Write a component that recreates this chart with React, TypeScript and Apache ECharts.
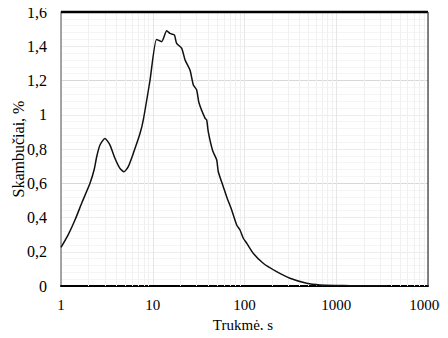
import React, { useEffect, useRef } from "react";
import * as echarts from "echarts";

// Duration (s) and share of calls (%)
const durations = [
  1.0, 1.2, 1.42, 1.7, 2.07, 2.3, 2.45, 2.66, 3.01, 3.42, 3.87, 4.39, 4.86, 5.41, 6.14,
  7.26, 7.89, 9.33, 11.0, 12.5, 14.2, 15.4, 17.2, 18.2, 20.7, 22.5, 25.5, 27.7, 30.1,
  31.9, 37.1, 38.7, 40.3, 45.0, 49.8, 51.8, 58.7, 64.0, 72.5, 82.2, 89.3, 97.0, 106,
  125, 160, 224, 313, 476, 665, 1000, 1413, 2000, 3573,
];
const shares = [
  0.225, 0.3, 0.385, 0.49, 0.6, 0.68, 0.755, 0.823, 0.862, 0.823, 0.746, 0.687, 0.667,
  0.697, 0.775, 0.89, 0.97, 1.2, 1.44, 1.427, 1.49, 1.475, 1.466, 1.417, 1.388, 1.32,
  1.26, 1.174, 1.145, 1.07, 0.98, 0.97, 0.9, 0.79, 0.736, 0.667, 0.58, 0.52, 0.444,
  0.356, 0.327, 0.279, 0.249, 0.19, 0.133, 0.084, 0.045, 0.016, 0.006, 0.003, 0.002,
  0.001, 0.001,
];
const xTickLabels = ["1", "10", "100", "1000", "10000"];
const xMinorGrid = [2, 3, 4, 5, 6, 7, 8, 9, 20, 30, 40, 50, 60, 70, 80, 90, 200, 300, 400, 500, 600, 700, 800, 900, 2000, 3000, 4000, 5000, 6000, 7000, 8000, 9000];
const xTitle = "Trukmė, s";
const yTitle = "Skambučiai, %";

const FONT = "Liberation Serif";

export default function App() {
  const ref = useRef<HTMLDivElement>(null);
  useEffect(() => {
    if (!ref.current) return;
    const chart = echarts.init(ref.current, undefined, { renderer: "svg" });
    const data = durations.map((d, i) => [d, shares[i]]);
    chart.setOption({
      animation: false,
      backgroundColor: "#ffffff",
      textStyle: { fontFamily: FONT },
      grid: {
        left: 61,
        right: 42,
        top: 12,
        bottom: 52,
        containLabel: false,
        outerBoundsMode: "none",
      },
      xAxis: {
        type: "log",
        logBase: 10,
        min: 1,
        max: 10000,
        axisLine: { show: true, lineStyle: { color: "#000", width: 2 } },
        axisTick: { show: false },
        axisLabel: {
          fontFamily: FONT,
          fontSize: 15,
          color: "#000",
          margin: 11,
          hideOverlap: false,
          showMaxLabel: true,
          formatter: (v: number) => {
            const i = Math.round(Math.log10(v));
            return xTickLabels[i] ?? String(Math.round(v));
          },
        },
        splitLine: { show: true, lineStyle: { color: "#e6e6e6", width: 1 } },
      },
      yAxis: [
        {
          type: "value",
          min: 0,
          max: 1.6,
          interval: 0.2,
          name: yTitle,
          nameLocation: "middle",
          nameGap: 35,
          nameRotate: 90,
          nameMoveOverlap: false,
          nameTextStyle: { fontFamily: FONT, fontSize: 16, color: "#000" },
          axisLine: { show: true, lineStyle: { color: "#888", width: 1.5 } },
          axisTick: { show: false },
          axisLabel: {
            fontFamily: FONT,
            fontSize: 16,
            color: "#000",
            margin: 14,
            formatter: (v: number) => String(Math.round(v * 10) / 10).replace(".", ","),
          },
          splitLine: { show: true, lineStyle: { color: "#ececec", width: 1 } },
          minorTick: { show: false, splitNumber: 5 },
          minorSplitLine: { show: true, lineStyle: { color: "#f5f5f5", width: 1 } },
        },
        {
          type: "value",
          min: 0,
          max: 1.6,
          interval: 0.6,
          position: "left",
          axisLine: { show: false },
          axisTick: { show: false },
          axisLabel: { show: false },
          splitLine: { show: true, lineStyle: { color: "#d8d8d8", width: 1.2 } },
        },
      ],
      graphic: [
        {
          type: "line",
          shape: { x1: 61, y1: 12, x2: 428, y2: 12 },
          style: { stroke: "#000", lineWidth: 2.5 },
          z: 100,
        },
        {
          type: "line",
          shape: { x1: 428, y1: 12, x2: 428, y2: 286 },
          style: { stroke: "#333", lineWidth: 1.2 },
          z: 100,
        },
        {
          type: "text",
          x: 243,
          y: 317,
          style: {
            text: xTitle,
            fontFamily: FONT,
            fontSize: 15,
            fill: "#000",
            align: "center",
            verticalAlign: "top",
          },
          z: 100,
        },
      ],
      series: [
        {
          type: "line",
          data,
          showSymbol: false,
          smooth: 0.2,
          lineStyle: { color: "#111", width: 1.5 },
          z: 10,
          markLine: {
            silent: true,
            symbol: "none",
            label: { show: false },
            lineStyle: { color: "#f0f0f0", width: 1, type: "solid" },
            data: xMinorGrid.map((v) => ({ xAxis: v })),
            z: 1,
          },
        },
      ],
    });
    return () => chart.dispose();
  }, []);
  return (
    <div style={{ width: 448, height: 338, margin: -8, overflow: "hidden", position: "relative" }}>
      <div ref={ref} style={{ width: 470, height: 338 }} />
    </div>
  );
}
